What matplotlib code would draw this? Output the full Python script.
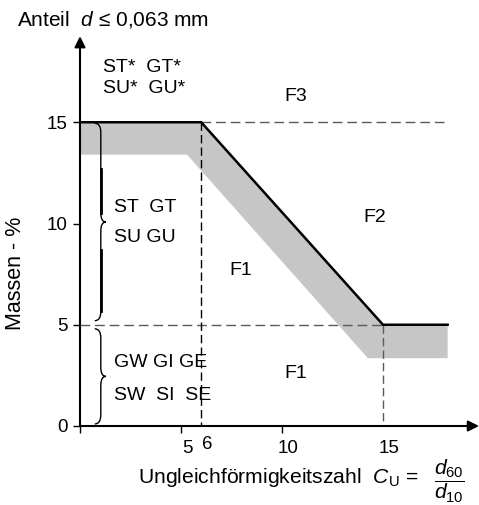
import matplotlib
matplotlib.use("Agg")
import matplotlib.pyplot as plt
from matplotlib.path import Path
from matplotlib.patches import PathPatch
from matplotlib.transforms import ScaledTranslation

plt.rcParams['font.family'] = ['Liberation Sans', 'DejaVu Sans']
plt.rcParams['mathtext.fontset'] = 'custom'
plt.rcParams['mathtext.rm'] = 'Liberation Sans'
plt.rcParams['mathtext.it'] = 'Liberation Sans:italic'
plt.rcParams['font.size'] = 14

# boundary line (upper edge of transition band)
limit_cu = [0, 6, 15, 18.2]
limit_fines = [15, 15, 5, 5]

# lower edge of the grey transition band
band_cu = [0, 5.3, 14.25, 18.2]
band_fines = [13.4, 13.4, 3.35, 3.35]

y_ticks = [0, 5, 10, 15]
x_ticks = [0, 5, 10, 15]
x_tick_labels = ["", "5", "10", "15"]

fig = plt.figure(figsize=(4.79, 5.05), dpi=100)
ax = fig.add_axes([80 / 479, 79 / 505, 399 / 479, 395 / 505])
ax.set_xlim(0, 399 / 20.2)
ax.set_ylim(0, 395 / 20.25)
for s in ax.spines.values():
    s.set_visible(False)

# grey band + boundary line
poly_x = limit_cu + band_cu[::-1]
poly_y = limit_fines + band_fines[::-1]
ax.fill(poly_x, poly_y, color='#c6c6c6', lw=0, zorder=1)
ax.plot(limit_cu, limit_fines, color='black', lw=1.8, zorder=3, solid_joinstyle='miter')

# dashed helper lines
ax.plot([6, 18.1], [15, 15], color='#5a5a5a', lw=1, dashes=(7, 3.5), zorder=2)
ax.plot([0, 15], [5, 5], color='#5a5a5a', lw=1, dashes=(7, 3.5), zorder=2)
ax.plot([6, 6], [15, 0], color='black', lw=1, dashes=(6, 3), zorder=2)
ax.plot([15, 15], [5, 0], color='#5a5a5a', lw=1, dashes=(6, 3), zorder=2)

# axes with arrows
arrow = dict(arrowstyle='-|>', color='black', lw=1.5, mutation_scale=16, shrinkA=0, shrinkB=0)
ax.annotate('', xy=(399 / 20.2, 0), xytext=(0, 0), arrowprops=arrow, annotation_clip=False)
ax.annotate('', xy=(0, 19.25), xytext=(0, 0), arrowprops=arrow, annotation_clip=False)

ax.set_yticks(y_ticks)
ax.set_xticks(x_ticks)
ax.set_xticklabels(x_tick_labels)
ax.tick_params(direction='out', length=5, width=1, pad=4, labelsize=13.5)
ax.tick_params(axis='x', pad=5)
ax.xaxis.get_major_ticks()[3].tick1line.set_visible(False)
for lab in ax.get_xticklabels():
    lab.set_transform(lab.get_transform() + ScaledTranslation(6 / 100, 0, fig.dpi_scale_trans))
ax.text(6.3, -0.5, "6", ha='center', va='top', fontsize=13.5)


def draw_brace(x, y_bot, y_top, tip=0.25, back=0.3, curl=0.45):
    y_mid = (y_bot + y_top) / 2
    verts = [(x - back, y_top), (x, y_top), (x, y_top - curl),
             (x, y_mid + curl), (x, y_mid), (x + tip, y_mid),
             (x, y_mid), (x, y_mid - curl),
             (x, y_bot + curl), (x, y_bot), (x - back, y_bot)]
    codes = [Path.MOVETO, Path.CURVE3, Path.CURVE3,
             Path.LINETO, Path.CURVE3, Path.CURVE3,
             Path.CURVE3, Path.CURVE3,
             Path.LINETO, Path.CURVE3, Path.CURVE3]
    ax.add_patch(PathPatch(Path(verts, codes), fill=False, lw=1, color='black', zorder=4))


draw_brace(1.03, 5.2, 14.95)
draw_brace(1.03, 0.1, 4.8)
ax.plot([1.03, 1.03], [12.7, 10.5], color='black', lw=2, zorder=4)
ax.plot([1.03, 1.03], [8.7, 5.7], color='black', lw=2, zorder=4)

# region labels
ax.text(1.15, 17.72, "ST*  GT*", va='center')
ax.text(1.15, 16.68, "SU*  GU*", va='center')
ax.text(1.7, 10.81, "ST  GT", va='center')
ax.text(1.7, 9.33, "SU GU", va='center')
ax.text(1.7, 3.16, "GW GI GE", va='center')
ax.text(1.7, 1.53, "SW  SI  SE", va='center')
ax.text(10.67, 16.25, "F3", ha='center', va='center')
ax.text(14.6, 10.3, "F2", ha='center', va='center')
ax.text(7.95, 7.7, "F1", ha='center', va='center')
ax.text(10.7, 2.57, "F1", ha='center', va='center')

# axis titles
fig.text(17 / 479, 1 - 20 / 505, "Anteil  $d$ \u2264 0,063 mm", ha='left', va='center', fontsize=15)
fig.text(16 / 479, 1 - 273 / 505, "Massen - %", rotation=90, ha='center', va='center', fontsize=15.5)
fig.text(418 / 479, 1 - 483 / 505, "Ungleichf\u00f6rmigkeitszahl  $C_\\mathrm{U}$ =",
         ha='right', va='baseline', fontsize=15.2)
fig.text(449 / 479, 1 - 481 / 505, "$\\dfrac{d_{60}}{d_{10}}$", ha='center', va='center', fontsize=15.2)

fig.savefig("out.png", dpi=100)
